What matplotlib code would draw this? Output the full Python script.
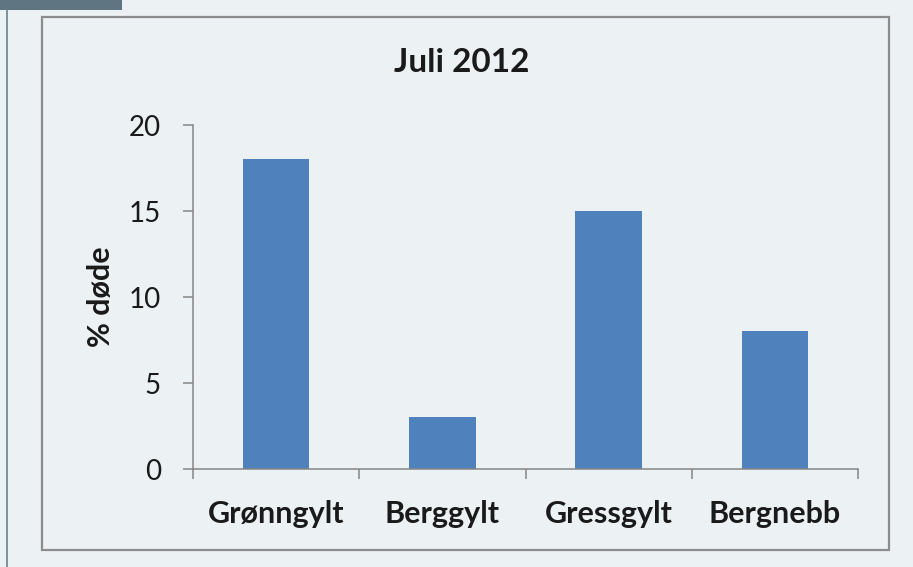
import matplotlib.pyplot as plt
from matplotlib.patches import Rectangle
from matplotlib.lines import Line2D

# data
categories = ['Grønngylt', 'Berggylt', 'Gressgylt', 'Bergnebb']
values = [18, 3, 15, 8]
y_ticks = [0, 5, 10, 15, 20]

W, H = 913, 567
bg = '#ecf1f4'
grey = '#868686'

plt.rcParams['font.family'] = ['Lato', 'DejaVu Sans']

fig = plt.figure(figsize=(W / 100, H / 100), dpi=100, facecolor=bg)

# decoration: slate tab, left rule, chart border
fig.patches.append(Rectangle((0, 1 - 10 / H), 122 / W, 10 / H, transform=fig.transFigure,
                             facecolor='#5f7582', edgecolor='none'))
fig.lines.append(Line2D([6.5 / W, 6.5 / W], [0, 1 - 10 / H], transform=fig.transFigure,
                        color='#6b808c', linewidth=1.2))
fig.patches.append(Rectangle((42 / W, 1 - 550 / H), (889 - 42) / W, (550 - 17) / H,
                             transform=fig.transFigure, facecolor='none',
                             edgecolor='#8c8c8c', linewidth=1.6))

ax = fig.add_axes([193 / W, (H - 469) / H, (858 - 193) / W, (469 - 125) / H])
ax.set_facecolor('none')

x = range(len(categories))
ax.bar(x, values, width=0.4, color='#4F81BD')

ax.set_xlim(-0.5, len(categories) - 0.5)
ax.set_ylim(0, 20)
ax.set_yticks(y_ticks)
ax.set_xticks(list(x))
ax.set_xticklabels(categories, fontsize=22, fontweight='bold', color='#1a1a1a')
ax.set_xticks([i - 0.5 for i in range(len(categories) + 1)], minor=True)
ax.tick_params(axis='x', which='major', length=0, pad=22)
ax.tick_params(axis='x', which='minor', length=7, width=1.1, color=grey, direction='out')
ax.tick_params(axis='y', length=7, width=1.1, color=grey, labelsize=20,
               labelcolor='#1a1a1a', pad=16)

for s in ['top', 'right']:
    ax.spines[s].set_visible(False)
for s in ['left', 'bottom']:
    ax.spines[s].set_color(grey)
    ax.spines[s].set_linewidth(1.1)

ax.set_ylabel('% døde', fontsize=22, fontweight='bold', color='#1a1a1a', labelpad=10)
fig.text(462 / W, 1 - 63 / H, 'Juli 2012', ha='center', va='center',
         fontsize=24, fontweight='bold', color='#1a1a1a')

fig.savefig('out.png', dpi=100, facecolor=bg)
